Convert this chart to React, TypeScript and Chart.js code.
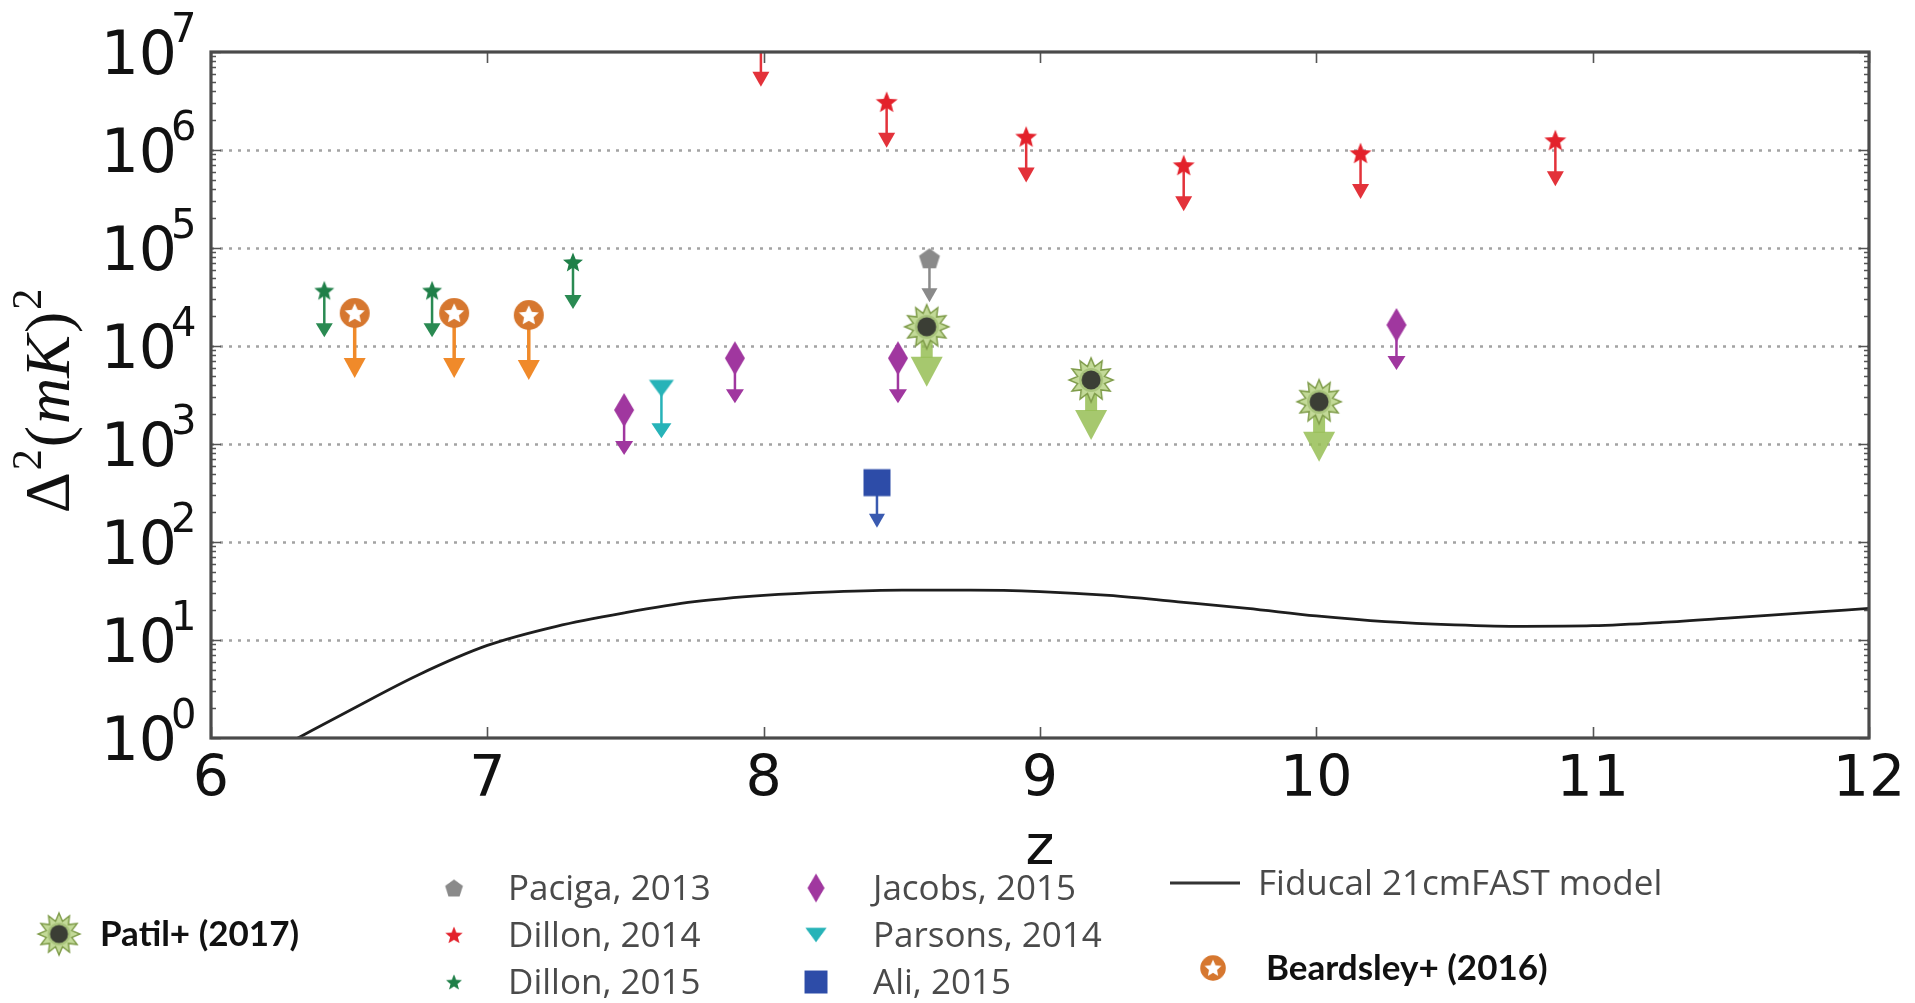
import React, { useEffect, useRef } from "react";
import { Chart, registerables } from "chart.js";

Chart.register(...registerables);

// ---------------- data ----------------
const xTickValues = [6, 7, 8, 9, 10, 11, 12];
const yTickExponents = [0, 1, 2, 3, 4, 5, 6, 7];

const modelZ = [6.3, 6.5, 6.75, 7.0, 7.25, 7.5, 7.75, 8.0, 8.25, 8.5, 8.75, 9.0, 9.25, 9.5, 9.75, 10.0, 10.25, 10.5, 10.75, 11.0, 11.25, 11.5, 11.75, 12.0];
const modelDelta = [0.95, 1.9, 4.4, 8.8, 13.8, 19.0, 24.6, 28.5, 31.0, 32.3, 32.3, 31.2, 28.5, 24.5, 21.0, 17.6, 15.4, 14.3, 13.8, 14.0, 15.1, 16.8, 18.8, 21.0];

const pacigaZ = [8.6];
const pacigaDelta = [7.85e4];

const dillon2014Z = [7.99, 8.445, 8.95, 9.52, 10.16, 10.865];
const dillon2014Delta = [1.3e7, 3.1e6, 1.37e6, 7.0e5, 9.3e5, 1.26e6];

const dillon2015Z = [6.41, 6.8, 7.31];
const dillon2015Delta = [3.7e4, 3.7e4, 7.2e4];

const jacobsZ = [7.495, 7.896, 8.486, 10.29];
const jacobsDelta = [2.22e3, 7.5e3, 7.5e3, 1.64e4];

const parsonsZ = [7.63];
const parsonsDelta = [3.7e3];

const aliZ = [8.41];
const aliDelta = [403];

const patilZ = [8.59, 9.185, 10.01];
const patilDelta = [1.57e4, 4.5e3, 2.7e3];

const beardsleyZ = [6.52, 6.88, 7.15];
const beardsleyDelta = [2.17e4, 2.17e4, 2.07e4];

const labels = {
  model: "Fiducal 21cmFAST model",
  paciga: "Paciga, 2013",
  dillon2014: "Dillon, 2014",
  dillon2015: "Dillon, 2015",
  jacobs: "Jacobs, 2015",
  parsons: "Parsons, 2014",
  ali: "Ali, 2015",
  patil: "Patil+ (2017)",
  beardsley: "Beardsley+ (2016)",
};

// ---------------- layout / style ----------------
const W = 1915;
const H = 1003;
const AREA = { left: 211, right: 1869, top: 52, bottom: 738 };

function toPts(xs: number[], ys: number[]) {
  return xs.map((x, i) => ({ x, y: ys[i] }));
}

function mk(w: number, h: number, draw: (g: CanvasRenderingContext2D, cx: number, cy: number) => void) {
  const c = document.createElement("canvas");
  c.width = w;
  c.height = h;
  const g = c.getContext("2d")!;
  draw(g, w / 2, h / 2);
  return c;
}

function starPath(g: CanvasRenderingContext2D, cx: number, cy: number, R: number, r: number, n: number) {
  g.beginPath();
  for (let i = 0; i < 2 * n; i++) {
    const a = -Math.PI / 2 + (i * Math.PI) / n;
    const rad = i % 2 === 0 ? R : r;
    const px = cx + rad * Math.cos(a);
    const py = cy + rad * Math.sin(a);
    if (i === 0) g.moveTo(px, py);
    else g.lineTo(px, py);
  }
  g.closePath();
}

function buildMarkers() {
  const redStar = mk(26, 26, (g, cx, cy) => {
    starPath(g, cx, cy + 1, 11.5, 5, 5);
    g.fillStyle = "#e3212b";
    g.fill();
  });
  const greenStar = mk(26, 26, (g, cx, cy) => {
    starPath(g, cx, cy + 1, 10.5, 4.6, 5);
    g.fillStyle = "#1f7f48";
    g.fill();
  });
  const pentagon = mk(26, 26, (g, cx, cy) => {
    g.beginPath();
    for (let i = 0; i < 5; i++) {
      const a = -Math.PI / 2 + (i * 2 * Math.PI) / 5;
      const px = cx + 11 * Math.cos(a);
      const py = cy + 1 + 11 * Math.sin(a);
      if (i === 0) g.moveTo(px, py);
      else g.lineTo(px, py);
    }
    g.closePath();
    g.fillStyle = "#8a8a8a";
    g.fill();
  });
  const diamond = mk(24, 38, (g, cx, cy) => {
    g.beginPath();
    g.moveTo(cx, cy - 17);
    g.lineTo(cx + 10, cy);
    g.lineTo(cx, cy + 17);
    g.lineTo(cx - 10, cy);
    g.closePath();
    g.fillStyle = "#a0379f";
    g.fill();
  });
  const triDown = mk(28, 22, (g, cx, cy) => {
    g.beginPath();
    g.moveTo(cx - 12.5, cy - 8.5);
    g.lineTo(cx + 12.5, cy - 8.5);
    g.lineTo(cx, cy + 8.5);
    g.closePath();
    g.fillStyle = "#27b3b8";
    g.fill();
  });
  const square = mk(30, 30, (g, cx, cy) => {
    g.fillStyle = "#2d4ca8";
    g.fillRect(cx - 13.5, cy - 13.5, 27, 27);
  });
  const beardsley = mk(34, 34, (g, cx, cy) => {
    g.beginPath();
    g.arc(cx, cy, 15, 0, Math.PI * 2);
    g.fillStyle = "#d6772f";
    g.fill();
    starPath(g, cx, cy + 0.8, 10.5, 5, 5);
    g.fillStyle = "#ffffff";
    g.fill();
  });
  const sun = mk(50, 50, (g, cx, cy) => {
    starPath(g, cx, cy, 22, 14, 12);
    g.fillStyle = "#c3da98";
    g.fill();
    g.lineWidth = 1.5;
    g.strokeStyle = "#7f9c4a";
    g.stroke();
    g.beginPath();
    g.arc(cx, cy, 12, 0, Math.PI * 2);
    g.fillStyle = "#a9c47c";
    g.fill();
    g.beginPath();
    g.arc(cx, cy, 9.5, 0, Math.PI * 2);
    g.fillStyle = "#3b3e35";
    g.fill();
  });
  return { redStar, greenStar, pentagon, diamond, triDown, square, beardsley, sun };
}

type ArrowOpt = { len: number; shaft: number; headW: number; headH: number; color: string };

function drawArrow(ctx: CanvasRenderingContext2D, x: number, y: number, a: ArrowOpt) {
  const tip = y + a.len;
  ctx.fillStyle = a.color;
  ctx.fillRect(x - a.shaft / 2, y, a.shaft, a.len - a.headH + 1);
  ctx.beginPath();
  ctx.moveTo(x - a.headW / 2, tip - a.headH);
  ctx.lineTo(x + a.headW / 2, tip - a.headH);
  ctx.lineTo(x, tip);
  ctx.closePath();
  ctx.fill();
}

export default function App() {
  const ref = useRef<HTMLCanvasElement>(null);

  useEffect(() => {
    const canvas = ref.current!;
    const m = buildMarkers();

    const scatter = (label: string, xs: number[], ys: number[], style: HTMLCanvasElement, arrow: ArrowOpt) => ({
      type: "scatter" as const,
      label,
      data: toPts(xs, ys),
      pointStyle: style,
      pointRadius: 10,
      arrow,
    });

    const datasets: any[] = [
      {
        type: "line",
        label: labels.model,
        data: toPts(modelZ, modelDelta),
        borderColor: "#1e1e1e",
        borderWidth: 2.8,
        pointRadius: 0,
        cubicInterpolationMode: "monotone",
        fill: false,
      },
      scatter(labels.beardsley, beardsleyZ, beardsleyDelta, m.beardsley, { len: 65, shaft: 3.5, headW: 22, headH: 20, color: "#f08a2a" }),
      scatter(labels.patil, patilZ, patilDelta, m.sun, { len: 60, shaft: 12, headW: 32, headH: 30, color: "rgba(150,190,85,0.85)" }),
      scatter(labels.dillon2014, dillon2014Z, dillon2014Delta, m.redStar, { len: 46, shaft: 2.5, headW: 17, headH: 15, color: "#e3323a" }),
      scatter(labels.dillon2015, dillon2015Z, dillon2015Delta, m.greenStar, { len: 47, shaft: 2.5, headW: 17, headH: 14, color: "#2a8a52" }),
      scatter(labels.jacobs, jacobsZ, jacobsDelta, m.diamond, { len: 45, shaft: 2.5, headW: 18, headH: 14, color: "#a0379f" }),
      scatter(labels.parsons, parsonsZ, parsonsDelta, m.triDown, { len: 50, shaft: 2.5, headW: 20, headH: 15, color: "#27b3b8" }),
      scatter(labels.paciga, pacigaZ, pacigaDelta, m.pentagon, { len: 44, shaft: 2.5, headW: 16, headH: 14, color: "#8a8a8a" }),
      scatter(labels.ali, aliZ, aliDelta, m.square, { len: 45, shaft: 2.5, headW: 16, headH: 14, color: "#3a5ab0" }),
    ];

    const decorPlugin = {
      id: "decor",
      beforeDatasetsDraw(chart: any) {
        const ctx: CanvasRenderingContext2D = chart.ctx;
        const ca = chart.chartArea;
        const ys = chart.scales.y;
        // dotted grid
        ctx.save();
        ctx.strokeStyle = "#a3a3a3";
        ctx.lineWidth = 2.4;
        ctx.setLineDash([3, 6]);
        for (const e of yTickExponents) {
          if (e === yTickExponents[0] || e === yTickExponents[yTickExponents.length - 1]) continue;
          const y = Math.round(ys.getPixelForValue(Math.pow(10, e))) + 0.5;
          ctx.beginPath();
          ctx.moveTo(ca.left, y);
          ctx.lineTo(ca.right, y);
          ctx.stroke();
        }
        ctx.restore();
        // upper-limit arrows
        ctx.save();
        ctx.beginPath();
        ctx.rect(ca.left, ca.top, ca.right - ca.left, ca.bottom - ca.top);
        ctx.clip();
        chart.data.datasets.forEach((ds: any, i: number) => {
          if (!ds.arrow) return;
          const meta = chart.getDatasetMeta(i);
          meta.data.forEach((el: any) => drawArrow(ctx, el.x, el.y, ds.arrow));
        });
        ctx.restore();
      },
      afterDatasetsDraw(chart: any) {
        const ctx: CanvasRenderingContext2D = chart.ctx;
        const ca = chart.chartArea;
        const xs = chart.scales.x;
        const ys = chart.scales.y;
        ctx.save();
        // ticks
        ctx.strokeStyle = "#555555";
        ctx.lineWidth = 1.6;
        for (const v of xTickValues) {
          const x = Math.round(xs.getPixelForValue(v)) + 0.5;
          ctx.beginPath();
          ctx.moveTo(x, ca.bottom);
          ctx.lineTo(x, ca.bottom - 11);
          ctx.moveTo(x, ca.top);
          ctx.lineTo(x, ca.top + 11);
          ctx.stroke();
        }
        for (let k = 0; k < yTickExponents.length; k++) {
          const e = yTickExponents[k];
          for (let mm = 1; mm <= 9; mm++) {
            if (k === yTickExponents.length - 1 && mm > 1) break;
            const y = Math.round(ys.getPixelForValue(mm * Math.pow(10, e))) + 0.5;
            const len = mm === 1 ? 10 : 5;
            ctx.beginPath();
            ctx.moveTo(ca.left, y);
            ctx.lineTo(ca.left + len, y);
            ctx.moveTo(ca.right, y);
            ctx.lineTo(ca.right - len, y);
            ctx.stroke();
          }
        }
        // frame
        ctx.strokeStyle = "#4a4a4a";
        ctx.lineWidth = 3.2;
        ctx.strokeRect(ca.left, ca.top, ca.right - ca.left, ca.bottom - ca.top);

        // tick labels
        ctx.fillStyle = "#111111";
        ctx.textBaseline = "alphabetic";
        for (const e of yTickExponents) {
          const y = ys.getPixelForValue(Math.pow(10, e));
          ctx.font = '60px "DejaVu Sans"';
          ctx.textAlign = "right";
          ctx.fillText("10", 177, y + 21.5);
          ctx.font = '40px "DejaVu Sans"';
          ctx.textAlign = "left";
          ctx.fillText(String(e), 171, y - 10);
        }
        ctx.font = '57px "DejaVu Sans"';
        ctx.textAlign = "center";
        for (const v of xTickValues) {
          ctx.fillText(String(v), xs.getPixelForValue(v), 796);
        }
        // axis titles
        ctx.font = '55px "DejaVu Sans"';
        ctx.fillText("z", (ca.left + ca.right) / 2, 864);

        ctx.save();
        ctx.translate(69, 400);
        ctx.rotate(-Math.PI / 2);
        const parts: [string, string, number][] = [
          ["Δ", '64px "Liberation Serif"', 0],
          ["2", '42px "Liberation Serif"', -28],
          ["(", '64px "Liberation Serif"', 0],
          ["mK", 'italic 64px "Liberation Serif"', 0],
          [")", '64px "Liberation Serif"', 0],
          ["2", '42px "Liberation Serif"', -28],
        ];
        let total = 0;
        for (const p of parts) {
          ctx.font = p[1];
          total += ctx.measureText(p[0]).width + 2;
        }
        let u = -total / 2;
        ctx.textAlign = "left";
        for (const p of parts) {
          ctx.font = p[1];
          ctx.fillText(p[0], u, p[2]);
          u += ctx.measureText(p[0]).width + 2;
        }
        ctx.restore();

        // legend
        const icon = (c: HTMLCanvasElement, x: number, y: number, s = 1) => {
          ctx.drawImage(c, x - (c.width * s) / 2, y - (c.height * s) / 2, c.width * s, c.height * s);
        };
        ctx.textAlign = "left";
        ctx.fillStyle = "#4a4a4a";
        ctx.font = '35px "Open Sans"';
        const col2: [HTMLCanvasElement, string][] = [
          [m.pentagon, labels.paciga],
          [m.redStar, labels.dillon2014],
          [m.greenStar, labels.dillon2015],
        ];
        const col3: [HTMLCanvasElement, string][] = [
          [m.diamond, labels.jacobs],
          [m.triDown, labels.parsons],
          [m.square, labels.ali],
        ];
        const rows = [888, 935, 982];
        col2.forEach((it, i) => {
          icon(it[0], 454, rows[i], i === 0 ? 0.85 : 0.8);
          ctx.fillText(it[1], 508, rows[i] + 12);
        });
        col3.forEach((it, i) => {
          icon(it[0], 816, rows[i], 0.85);
          ctx.fillText(it[1], 873, rows[i] + 12);
        });
        ctx.strokeStyle = "#333333";
        ctx.lineWidth = 3;
        ctx.beginPath();
        ctx.moveTo(1170, 883);
        ctx.lineTo(1240, 883);
        ctx.stroke();
        ctx.fillText(labels.model, 1258, 895);

        ctx.fillStyle = "#111111";
        ctx.font = 'bold 35px "Lato"';
        icon(m.sun, 59, 934, 0.95);
        ctx.fillText(labels.patil, 100, 946);
        icon(m.beardsley, 1213, 968, 0.85);
        ctx.fillText(labels.beardsley, 1266, 980);
        ctx.restore();
      },
    };

    const chart = new Chart(canvas, {
      type: "scatter",
      data: { datasets },
      options: {
        animation: false,
        responsive: false,
        devicePixelRatio: 1,
        events: [],
        layout: {
          padding: { left: AREA.left, right: W - AREA.right, top: AREA.top, bottom: H - AREA.bottom },
        },
        plugins: { legend: { display: false }, tooltip: { enabled: false } },
        scales: {
          x: { type: "linear", min: 6, max: 12, display: false },
          y: { type: "logarithmic", min: 1, max: 1e7, display: false },
        },
      } as any,
      plugins: [decorPlugin],
    });
    return () => chart.destroy();
  }, []);

  return (
    <div style={{ position: "absolute", left: 0, top: 0, width: W, height: H, background: "#ffffff" }}>
      <canvas ref={ref} width={W} height={H} style={{ display: "block", width: W, height: H }} />
    </div>
  );
}
